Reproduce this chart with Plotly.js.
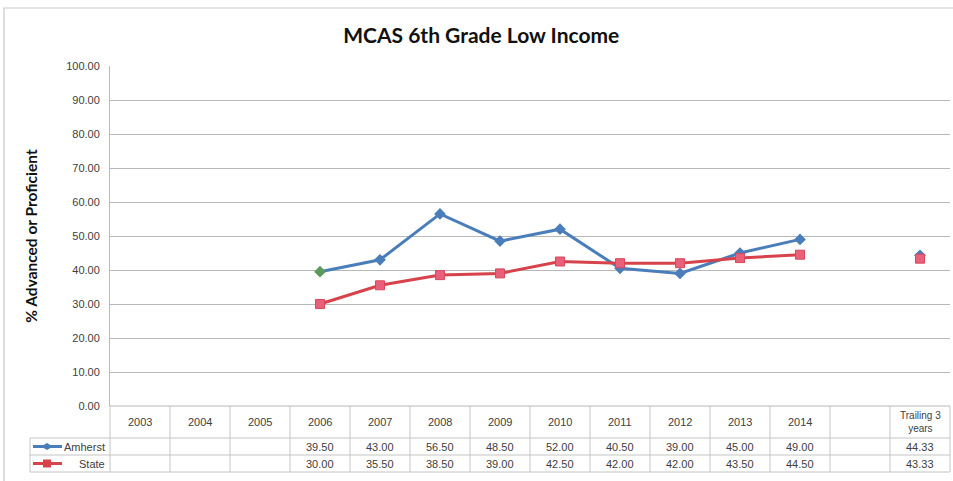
<!DOCTYPE html>
<html>
<head>
<meta charset="utf-8">
<script src="https://cdn.plot.ly/plotly-3.0.1.min.js"></script>
<style>html,body{margin:0;padding:0;background:#fff;}#chart{width:953px;height:481px;}</style>
</head>
<body>
<div id="chart"></div>
<script>
// ---- data ----
var categories = ['2003','2004','2005','2006','2007','2008','2009','2010','2011','2012','2013','2014','','Trailing 3 years'];
var categoryLabels = ['2003','2004','2005','2006','2007','2008','2009','2010','2011','2012','2013','2014','','Trailing 3<br>years'];
var seriesNames = ['Amherst','State'];
var amherst = [null,null,null,39.50,43.00,56.50,48.50,52.00,40.50,39.00,45.00,49.00,null,44.33];
var state   = [null,null,null,30.00,35.50,38.50,39.00,42.50,42.00,42.00,43.50,44.50,null,43.33];
var yTicks = [0,10,20,30,40,50,60,70,80,90,100];

// ---- styling ----
var blue = '#4a7ebb', red = '#d6434a', green = '#5b9a5b', pink = '#e8607a';
var gridCol = '#b8b8b8', tblCol = '#c4c4c4';
var fontFam = 'Liberation Sans, Arial, sans-serif';
var n = categories.length;
var xIdx = categories.map(function(_, i){ return i; });

// plot-area geometry in pixels (for table rows below the axis)
var W = 953, H = 481, mL = 110, mR = 3, mT = 66, mB = 75;
var plotW = W - mL - mR, plotH = H - mT - mB;
function py(pxFromAxis){ return -pxFromAxis / plotH; }   // pixels below x axis -> paper y
function px(pxFromLeft){ return pxFromLeft / plotW; }     // pixels right of plot left -> paper x

var rowHeader = py(16), rowA = py(40.5), rowS = py(57.5);
var lines = [py(32), py(49), py(66)];

var amherstColors = amherst.map(function(v, i){ return i === 3 ? green : blue; });

var traces = [
  {x: xIdx, y: amherst, name: seriesNames[0], type: 'scatter', mode: 'lines+markers',
   connectgaps: false, cliponaxis: false,
   line: {color: blue, width: 3},
   marker: {symbol: 'diamond', size: 9, color: amherstColors, line: {color: blue, width: 0}}},
  {x: xIdx, y: state, name: seriesNames[1], type: 'scatter', mode: 'lines+markers',
   connectgaps: false, cliponaxis: false,
   line: {color: red, width: 3},
   marker: {symbol: 'square', size: 9, color: pink, line: {color: '#d9485a', width: 1}}}
];

var shapes = [];
var annotations = [];

// outer frame
shapes.push({type: 'rect', xref: 'paper', yref: 'paper',
  x0: px(4 - mL), x1: px(W + 5 - mL), y0: py(H + 5 - (mT + plotH)), y1: 1 + (mT - 8) / plotH,
  line: {color: '#c8c8c8', width: 1.2}, fillcolor: 'rgba(0,0,0,0)', layer: 'below'});

// table horizontal lines
lines.forEach(function(yv){
  shapes.push({type: 'line', xref: 'paper', yref: 'paper', x0: px(30 - mL), x1: 1, y0: yv, y1: yv,
    line: {color: tblCol, width: 1}});
});
// x axis / table top line
shapes.push({type: 'line', xref: 'paper', yref: 'paper', x0: 0, x1: 1, y0: 0, y1: 0,
  line: {color: gridCol, width: 1}});
// table vertical lines
for (var k = 0; k <= n; k++) {
  shapes.push({type: 'line', xref: 'paper', yref: 'paper', x0: k / n, x1: k / n, y0: 0, y1: lines[2],
    line: {color: tblCol, width: 1}});
}
shapes.push({type: 'line', xref: 'paper', yref: 'paper', x0: px(30 - mL), x1: px(30 - mL), y0: lines[0], y1: lines[2],
  line: {color: tblCol, width: 1}});

// legend keys in table
[[rowA, blue, 'M0,-3.5 L6,0 L0,3.5 L-6,0 Z'], [rowS, red, 'M-4,-4 L4,-4 L4,4 L-4,4 Z']].forEach(function(r){
  shapes.push({type: 'line', xref: 'paper', yref: 'paper', x0: px(33 - mL), x1: px(62 - mL), y0: r[0], y1: r[0],
    line: {color: r[1], width: 3}});
  shapes.push({type: 'path', xref: 'paper', yref: 'paper', xsizemode: 'pixel', ysizemode: 'pixel',
    xanchor: px(47 - mL), yanchor: r[0], path: r[2], fillcolor: r[1], line: {color: r[1], width: 0}});
});

var tfont = {family: fontFam, size: 11, color: '#404040'};
// header row
categoryLabels.forEach(function(c, i){
  if (c) annotations.push({xref: 'x', yref: 'paper', x: i, y: rowHeader, text: c, showarrow: false,
    font: {family: fontFam, size: c.indexOf('<br>') >= 0 ? 10 : 11, color: '#404040'}, align: 'center', yanchor: 'middle'});
});
// value rows
[[amherst, rowA], [state, rowS]].forEach(function(r){
  r[0].forEach(function(v, i){
    if (v !== null) annotations.push({xref: 'x', yref: 'paper', x: i, y: r[1], text: v.toFixed(2),
      showarrow: false, font: tfont, yanchor: 'middle'});
  });
});
// row names
annotations.push({xref: 'paper', yref: 'paper', x: px(107 - mL), y: rowA, xanchor: 'right', yanchor: 'middle',
  text: seriesNames[0], showarrow: false, font: tfont});
annotations.push({xref: 'paper', yref: 'paper', x: px(107 - mL), y: rowS, xanchor: 'right', yanchor: 'middle',
  text: seriesNames[1], showarrow: false, font: tfont});

var layout = {
  width: W, height: H,
  margin: {l: mL, r: mR, t: mT, b: mB, pad: 0},
  paper_bgcolor: '#ffffff', plot_bgcolor: '#ffffff',
  showlegend: false,
  title: {text: '<b>MCAS 6th Grade Low Income</b>', x: 0.505, xanchor: 'center', y: 0.925, yanchor: 'middle',
    font: {family: 'Lato, Open Sans, sans-serif', size: 21, color: '#111111'}},
  xaxis: {range: [-0.5, n - 0.5], showticklabels: false, showgrid: false, zeroline: false,
    showline: false, ticks: '', fixedrange: true},
  yaxis: {range: [0, 100], tickvals: yTicks, ticktext: yTicks.map(function(v){ return v.toFixed(2); }),
    showgrid: true, gridcolor: gridCol, gridwidth: 1, zeroline: false,
    showline: true, linecolor: gridCol, linewidth: 1,
    ticks: 'outside', ticklen: 7, tickcolor: 'rgba(0,0,0,0)',
    tickfont: {family: fontFam, size: 11, color: '#404040'},
    title: {text: '<b>% Advanced or Proficient</b>', standoff: 24,
      font: {family: 'Lato, Open Sans, sans-serif', size: 15.5, color: '#111111'}},
    automargin: false, fixedrange: true},
  shapes: shapes,
  annotations: annotations
};

Plotly.newPlot('chart', traces, layout, {displayModeBar: false, staticPlot: true});
</script>
</body>
</html>
